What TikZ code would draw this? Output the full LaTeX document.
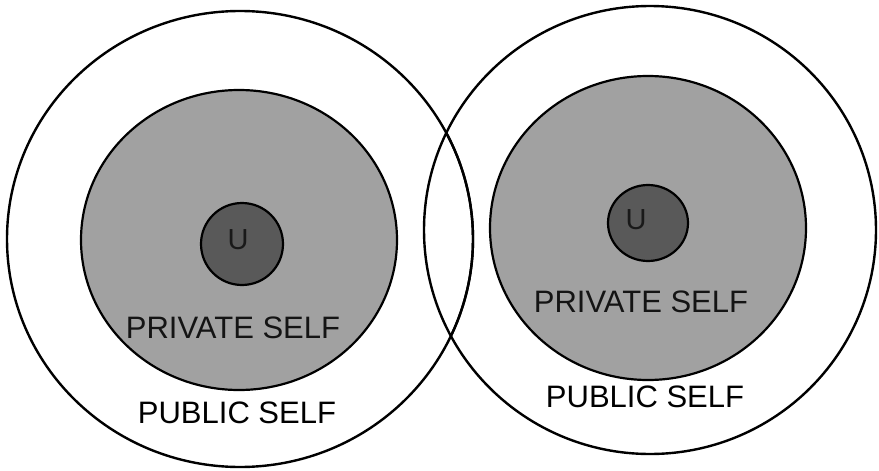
\documentclass[tikz,border=0pt]{standalone}
\usepackage{fontspec}
\setmainfont{Liberation Sans}
\begin{document}
\begin{tikzpicture}[x=1pt,y=-1pt,
  outer/.style={draw=black,line width=2.4pt},
  privfill/.style={draw=black,line width=2.2pt,fill=black!37},
  core/.style={draw=black,line width=2.2pt,fill=black!65},
  lab/.style={font=\fontsize{31}{31}\selectfont,inner sep=0pt,text=black},
  privlab/.style={font=\fontsize{31}{31}\selectfont,inner sep=0pt,text=black!92},
  ulab/.style={font=\fontsize{29}{29}\selectfont,inner sep=0pt,text=black!90}]
\useasboundingbox (0,0) rectangle (879,471);
% left
\draw[outer] (240,239) ellipse [x radius=233, y radius=228];
\draw[privfill] (239,240) ellipse [x radius=158, y radius=150];
\draw[core] (242,244) circle [radius=41];
\node[ulab] (u1) at (238,240) {U};
\node[privlab] (p1) at (233,328) {PRIVATE SELF};
\node[lab] (pub1) at (237,413) {PUBLIC SELF};
% right
\draw[outer] (650,230) ellipse [x radius=226, y radius=224];
\draw[privfill] (648,228) ellipse [x radius=158, y radius=152];
\draw[core] (648,223) ellipse [x radius=40, y radius=38];
\node[ulab] (u2) at (636,220) {U};
\node[privlab] (p2) at (641,302) {PRIVATE SELF};
\node[lab] (pub2) at (645,397) {PUBLIC SELF};
% left outer circle arc over right circle
\begin{scope}
\clip (650,230) ellipse [x radius=226, y radius=224];
\draw[outer] (240,239) ellipse [x radius=233, y radius=228];
\end{scope}
\end{tikzpicture}
\end{document}
